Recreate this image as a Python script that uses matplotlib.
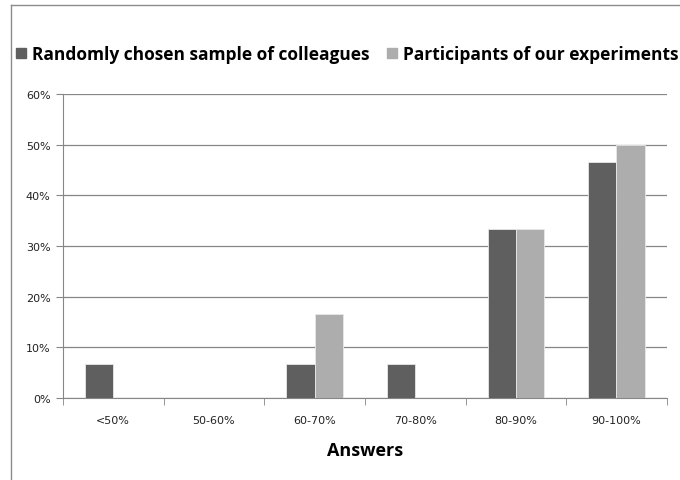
import numpy as np
import matplotlib.pyplot as plt
from matplotlib.lines import Line2D
from matplotlib.ticker import PercentFormatter

categories = ['<50%', '50-60%', '60-70%', '70-80%', '80-90%', '90-100%']
colleagues = [6.67, 0, 6.67, 6.67, 33.33, 46.67]
participants = [0, 0, 16.67, 0, 33.33, 50.0]
series_names = ['Randomly chosen sample of colleagues', 'Participants of our experiments']
colors = ['#5f5f5f', '#adadad']

fig = plt.figure(figsize=(6.8, 4.81), dpi=100)
ax = fig.add_axes([0.0926, 0.1705, 0.888, 0.632])

x = np.arange(len(categories))
w = 0.28
ax.bar(x - w / 2, colleagues, w, color=colors[0], edgecolor='#e8e8e8', linewidth=0.6, zorder=3)
ax.bar(x + w / 2, participants, w, color=colors[1], edgecolor='#e8e8e8', linewidth=0.6, zorder=3)

ax.set_xlim(-0.5, len(categories) - 0.5)
ax.set_ylim(0, 60)
ax.set_yticks(range(0, 61, 10))
ax.yaxis.set_major_formatter(PercentFormatter(decimals=0))
ax.yaxis.grid(True, color='#868686', linewidth=0.9, zorder=0)

ax.set_xticks(x)
ax.set_xticklabels(categories)
ax.set_xticks(np.arange(-0.5, len(categories)), minor=True)
ax.tick_params(axis='x', which='major', length=0, pad=12, labelsize=8, labelcolor='#222222')
ax.tick_params(axis='x', which='minor', length=5, color='#868686')
ax.tick_params(axis='y', length=5, color='#868686', labelsize=8, labelcolor='#222222', pad=4)

for s in ['top', 'right']:
    ax.spines[s].set_visible(False)
ax.spines['left'].set_color('#868686')
ax.spines['bottom'].set_color('#868686')

ax.set_xlabel('Answers', fontsize=13, fontweight='bold', family='Open Sans', labelpad=12)

# legend
handles = [Line2D([], [], marker='s', linestyle='none', markersize=7.5, color=c) for c in colors]
fig.legend(handles, series_names, loc='center left', bbox_to_anchor=(-0.008, 0.885),
           ncol=2, frameon=False, handletextpad=0.05, columnspacing=0.7, handlelength=1.2,
           prop={'family': 'Open Sans', 'weight': 'bold', 'size': 12.5})

# outer frame
fig.add_artist(Line2D([0.016, 0.016], [0, 0.988], color='#8c8c8c', linewidth=1, transform=fig.transFigure))
fig.add_artist(Line2D([0.016, 1.0], [0.988, 0.988], color='#8c8c8c', linewidth=1, transform=fig.transFigure))

fig.savefig('out.png', dpi=100)
